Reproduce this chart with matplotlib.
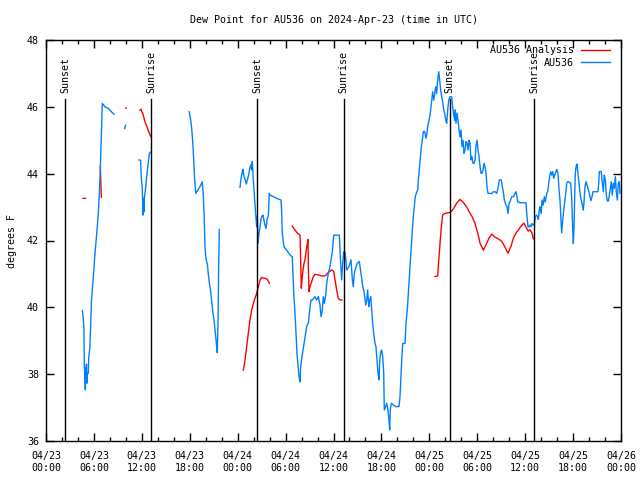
import numpy as np
import matplotlib
matplotlib.use('Agg')
import matplotlib.pyplot as plt

nan = float('nan')

# hours since 2024-04-23 00:00 UTC
sunset_h = [2.4, 26.46, 50.55]
sunrise_h = [13.2, 37.28, 61.15]

tick_h = [0, 6, 12, 18, 24, 30, 36, 42, 48, 54, 60, 66, 72]
tick_lbl = ['04/23\n00:00', '04/23\n06:00', '04/23\n12:00', '04/23\n18:00',
            '04/24\n00:00', '04/24\n06:00', '04/24\n12:00', '04/24\n18:00',
            '04/25\n00:00', '04/25\n06:00', '04/25\n12:00', '04/25\n18:00',
            '04/26\n00:00']

# AU536 observed dew point (F), nan marks missing data
obs_h = [4.55, 4.65, 4.75, 4.8, 4.93, 4.97, 5.02, 5.07, 5.12, 5.2, 5.3, 5.35, 5.5, 5.7, 5.9,
         6.1, 6.35, 6.55, 6.7, 6.8, 6.85, 6.95, 7.05, 7.4, 7.8, 8.2, 8.5, nan,
         9.85, 9.95, nan,
         11.65, 11.85, 11.95, 12.05, 12.1, 12.15, 12.2, 12.25, 12.3, 12.45, 12.6, 12.75, 12.95, 13.15, nan,
         17.94, 18.12, 18.24, 18.37, 18.5, 18.62, 18.75, 19.0, 19.3, 19.57, 19.7, 19.82, 19.91,
         20.04, 20.2, 20.32, 20.45, 20.62, 20.75, 20.87, 21.04, 21.16, 21.29, 21.37, 21.45,
         21.54, 21.63, 21.7, nan,
         24.29, 24.42, 24.58, 24.67, 24.79, 24.96, 25.08, 25.21, 25.38, 25.51, 25.63, 25.76,
         25.83, 25.96, 26.13, 26.26, 26.38, 26.46, 26.55, 26.67, 26.8, 26.92, 27.05, 27.17,
         27.3, 27.42, 27.55, 27.67, 27.84, 27.96, 28.05, 28.46, 28.89, 29.43, 29.51, 29.59,
         29.8, 30.14, 30.55, 30.84, 31.02, 31.18, 31.31, 31.43, 31.56, 31.68, 31.81, 31.89,
         32.02, 32.18, 32.35, 32.52, 32.68, 32.85, 32.97, 33.18, 33.35, 33.68, 33.9, 34.1,
         34.31, 34.44, 34.6, 34.72, 34.85, 35.03, 35.15, 35.35, 35.56, 35.85, 36.03, 36.31,
         36.73, 36.85, 37.03, 37.15, 37.28, 37.44, 37.53, 37.65, 37.78, 37.94, 38.07, 38.19,
         38.36, 38.48, 38.61, 38.82, 38.98, 39.23, 39.32, 39.53, 39.66, 39.78, 39.91, 40.03,
         40.16, 40.28, 40.41, 40.53, 40.66, 40.78, 40.91, 41.03, 41.2, 41.32, 41.45, 41.57,
         41.7, 41.79, 41.91, 42.04, 42.16, 42.29, 42.36, 42.54, 42.66, 42.82, 42.95, 43.04,
         43.11, 43.24, 43.49, 43.79, 44.2, 44.33, 44.42, 44.54, 44.67, 44.95, 45.08, 45.24,
         45.37, 45.49, 45.62, 45.74, 45.87, 45.99, 46.12, 46.24, 46.37, 46.54, 46.62, 46.74,
         46.87, 47.0, 47.12, 47.25, 47.42, 47.58, 47.71, 47.8, 47.92, 48.05, 48.17, 48.3,
         48.42, 48.55, 48.67, 48.8, 48.92, 49.05, 49.17, 49.3, 49.42, 49.55, 49.67, 49.8,
         49.92, 50.05, 50.18, 50.3, 50.43, 50.59, 50.8, 50.92, 51.05, 51.18, 51.25, 51.34,
         51.47, 51.59, 51.72, 51.84, 51.97, 52.09, 52.22, 52.34, 52.47, 52.59, 52.72, 52.84,
         52.97, 53.09, 53.22, 53.34, 53.47, 53.59, 53.72, 53.84, 53.97, 54.1, 54.22, 54.35,
         54.47, 54.6, 54.72, 54.85, 54.97, 55.1, 55.22, 55.35, 55.6, 55.85, 56.01, 56.22,
         56.44, 56.64, 56.76, 57.01, 57.14, 57.26, 57.39, 57.6, 57.73, 57.85, 57.98, 58.1,
         58.32, 58.52, 58.73, 58.85, 58.98, 59.07, 59.35, 59.77, 60.1, 60.23, 60.36, 60.48,
         60.61, 60.73, 60.86, 61.02, 61.15, 61.27, 61.45, 61.65, 61.77, 61.86, 62.0, 62.11,
         62.27, 62.4, 62.52, 62.7, 62.82, 62.95, 63.07, 63.2, 63.32, 63.45, 63.57, 63.7,
         63.82, 63.95, 64.11, 64.24, 64.36, 64.49, 64.57, 64.7, 64.83, 64.95, 65.08, 65.2,
         65.33, 65.45, 65.7, 65.83, 65.95, 66.03, 66.12, 66.2, 66.28, 66.37, 66.49, 66.58,
         66.71, 66.83, 66.96, 67.08, 67.21, 67.28, 67.37, 67.49, 67.62, 67.74, 67.87, 67.99,
         68.12, 68.24, 68.37, 68.49, 68.87, 69.12, 69.21, 69.28, 69.53, 69.66, 69.79, 69.91,
         70.04, 70.16, 70.29, 70.41, 70.54, 70.66, 70.79, 70.91, 71.04, 71.16, 71.29, 71.41,
         71.54, 71.66, 71.79, 71.87]
obs_f = [39.9, 39.72, 39.37, 38.27, 37.53, 38.2, 37.8, 38.3, 37.73, 38.03, 38.03, 38.5, 38.82, 40.22, 40.82,
         41.51, 42.21, 42.81, 43.51, 44.11, 44.5, 45.3, 46.1, 46.0, 45.95, 45.85, 45.78, nan,
         45.35, 45.45, nan,
         44.41, 44.4, 43.81, 43.61, 43.21, 42.76, 43.26, 42.85, 43.25, 43.51, 43.91, 44.21, 44.61, 44.66, nan,
         45.85, 45.6, 45.36, 44.96, 44.4, 43.8, 43.41, 43.5, 43.62, 43.76, 43.36, 42.61, 41.81,
         41.43, 41.31, 41.0, 40.74, 40.47, 40.17, 39.9, 39.62, 39.32, 39.04, 38.82, 38.64,
         39.57, 41.42, 42.33, nan,
         43.59, 43.86, 44.06, 44.13, 43.91, 43.81, 43.69, 43.81, 43.96, 44.16, 44.26, 44.11,
         44.36, 43.81, 43.21, 42.81, 42.41, 42.71, 41.92, 42.21, 42.41, 42.66, 42.73, 42.76,
         42.61, 42.46, 42.36, 42.61, 42.76, 43.41, 43.36, 43.31, 43.26, 43.21, 42.86, 42.21,
         41.81, 41.71, 41.57, 41.51, 40.42, 39.82, 39.22, 38.62, 38.27, 37.92, 37.77, 38.22,
         38.47, 38.72, 38.97, 39.22, 39.47, 39.52, 39.82, 40.22, 40.22, 40.32, 40.22, 40.32,
         40.07, 39.72, 39.92, 40.32, 40.12, 40.37, 40.72, 41.02, 41.22, 41.66, 42.16, 42.16,
         42.16, 41.51, 40.82, 41.32, 41.66, 41.66, 41.47, 41.12, 41.17, 41.22, 41.32, 41.42,
         40.82, 40.62, 41.02, 41.22, 41.32, 41.37, 41.22, 40.87, 40.62, 40.52, 40.32, 40.07,
         40.22, 40.52, 40.02, 40.22, 40.32, 39.92, 39.52, 39.22, 38.92, 38.82, 38.42, 38.03,
         37.83, 38.42, 38.67, 38.72, 38.52, 38.03, 36.93, 37.03, 37.13, 36.93, 36.63, 36.33,
         36.93, 37.13, 37.08, 37.03, 37.03, 37.33, 37.83, 38.42, 38.92, 38.92, 39.52, 39.92,
         40.42, 40.92, 41.42, 41.81, 42.31, 42.71, 43.01, 43.31, 43.41, 43.51, 43.81, 44.11,
         44.46, 44.81, 45.0, 45.26, 45.26, 45.06, 45.21, 45.41, 45.56, 45.71, 45.91, 46.2,
         46.45, 46.2, 46.4, 46.6, 46.4, 46.8, 47.05, 46.8, 46.5, 46.3, 46.15, 45.91,
         45.81, 45.6, 45.51, 45.91, 46.2, 46.3, 46.3, 46.0, 45.75, 45.6, 45.91, 45.51,
         45.81, 45.6, 45.31, 45.1, 45.31, 44.81, 45.0, 44.61, 44.71, 44.96, 44.91, 44.71,
         45.0, 44.91, 44.41, 44.51, 44.31, 44.31, 44.41, 44.81, 45.0, 44.71, 44.51, 44.21,
         44.01, 44.01, 44.11, 44.31, 44.21, 44.01, 43.61, 43.41, 43.41, 43.41, 43.46, 43.46,
         43.41, 43.61, 43.81, 43.81, 43.61, 43.46, 43.21, 43.06, 43.01, 42.81, 43.11, 43.16,
         43.31, 43.31, 43.41, 43.46, 43.31, 43.16, 43.13, 43.13, 43.13, 42.71, 42.41, 42.41,
         42.46, 42.41, 42.51, 42.46, 42.46, 42.73, 42.76, 42.63, 42.91, 43.01, 42.81, 43.21,
         43.06, 43.31, 43.16, 43.41, 43.46, 43.71, 43.91, 44.06, 43.96, 44.06, 43.86, 43.96,
         44.03, 44.13, 44.01, 43.51, 43.21, 42.61, 42.23, 42.61, 42.91, 43.16, 43.41, 43.71,
         43.76, 43.76, 43.71, 43.26, 42.36, 41.91, 42.41, 43.31, 44.01, 44.21, 44.29, 44.06,
         43.81, 43.51, 43.26, 43.16, 43.01, 42.91, 43.16, 43.61, 43.76, 43.66, 43.56, 43.46,
         43.31, 43.19, 43.31, 43.46, 43.46, 43.46, 43.71, 44.06, 44.06, 43.71, 43.46, 43.96,
         43.81, 43.36, 43.18, 43.18, 43.36, 43.56, 43.76, 43.36, 43.71, 43.56, 43.91, 43.46,
         43.21, 43.71, 43.76, 43.41]

# AU536 analysis dew point (F)
ana_h = [4.65, 4.95, nan,
         6.8, 6.87, 6.93, nan,
         9.98, 10.05, nan,
         11.77, 11.9, 11.98, 12.1, 12.23, 12.4, 12.6, 12.81, 13.02, 13.15, nan,
         24.71, 24.92, 25.13, 25.33, 25.54, 25.76, 25.96, 26.17, 26.38, 26.59, 26.8, 27.01,
         27.42, 27.71, 27.96, nan,
         30.84, 31.18, 31.52, 31.81, 31.89, 31.97, 32.06, 32.18, 32.31, 32.43, 32.56, 32.68,
         32.81, 32.85, 32.93, 33.06, 33.27, 33.47, 33.68, 34.1, 34.52, 34.94, 35.35, 35.78,
         36.03, 36.19, 36.4, 36.6, 36.81, 37.03, nan,
         48.71, 49.05, 49.12, 49.25, 49.37, 49.5, 49.67, 49.96, 50.38, 50.63, 51.0, 51.43,
         51.84, 52.26, 52.68, 53.09, 53.38, 53.72, 54.06, 54.35, 54.76, 55.1, 55.47, 55.81,
         56.22, 56.64, 57.06, 57.35, 57.85, 58.23, 58.52, 58.85, 59.14, 59.48, 59.85, 60.1,
         60.39, 60.61, 60.86, 61.02]
ana_f = [43.26, 43.26, nan,
         44.23, 43.7, 43.29, nan,
         45.96, 45.96, nan,
         45.9, 45.93, 45.85, 45.82, 45.7, 45.55, 45.43, 45.29, 45.16, 45.1, nan,
         38.12, 38.42, 38.82, 39.22, 39.62, 39.92, 40.12, 40.27, 40.42, 40.62, 40.82, 40.89,
         40.87, 40.84, 40.72, nan,
         42.43, 42.31, 42.21, 42.16, 41.42, 40.57, 40.82, 41.12, 41.32, 41.42, 41.66, 41.86,
         42.03, 41.22, 40.47, 40.62, 40.77, 40.92, 40.99, 40.97, 40.94, 40.94, 41.04, 41.12,
         41.07, 40.82, 40.52, 40.27, 40.22, 40.22, nan,
         40.92, 40.94, 41.22, 41.62, 42.01, 42.41, 42.77, 42.81, 42.83, 42.84, 42.94, 43.12,
         43.23, 43.14, 43.0, 42.82, 42.7, 42.51, 42.22, 41.92, 41.71, 41.87, 42.07, 42.19,
         42.1, 42.05, 41.98, 41.86, 41.62, 41.83, 42.07, 42.22, 42.31, 42.43, 42.52, 42.4,
         42.28, 42.32, 42.22, 42.05]

plt.rcParams['font.family'] = ['DejaVu Sans Mono']
plt.rcParams['font.size'] = 7.2

fig = plt.figure(figsize=(6.4, 4.8), dpi=100)
ax = fig.add_axes([46/640, 39/480, 575/640, 401/480])

ax.plot(ana_h, ana_f, color='#ff0000', lw=1.0, label='AU536 Analysis')
ax.plot(obs_h, obs_f, color='#0080ff', lw=1.0, label='AU536')

for h in sunset_h:
    ax.axvline(h, ymin=0, ymax=0.853, color='black', lw=1.0)
    ax.text(h, 0.868, 'Sunset', rotation=90, ha='center', va='bottom',
            transform=ax.get_xaxis_transform())
for h in sunrise_h:
    ax.axvline(h, ymin=0, ymax=0.853, color='black', lw=1.0)
    ax.text(h, 0.868, 'Sunrise', rotation=90, ha='center', va='bottom',
            transform=ax.get_xaxis_transform())

ax.set_xlim(0, 72)
ax.set_ylim(36, 48)
ax.set_xticks(tick_h)
ax.set_xticklabels(tick_lbl)
ax.set_xticks(np.arange(0, 73, 2), minor=True)
ax.set_yticks(np.arange(36, 49, 2))
ax.tick_params(which='both', direction='in', top=True, right=True, width=1.0)
ax.tick_params(which='major', length=6)
ax.tick_params(which='minor', length=3)
ax.tick_params(axis='x', pad=7.5)
ax.tick_params(axis='y', pad=5)
for s in ax.spines.values():
    s.set_linewidth(1.0)

ax.set_title('Dew Point for AU536 on 2024-Apr-23 (time in UTC)', fontsize=7.2, pad=12)
ax.set_ylabel('degrees F')
ax.yaxis.set_label_coords(-0.05, 0.5)

ax.legend(loc='upper right', bbox_to_anchor=(0.9878, 0.9975), frameon=False,
          markerfirst=False, handlelength=2.9, borderaxespad=0, labelspacing=0.25,
          handletextpad=0.7)

fig.savefig('out.png', dpi=100)
